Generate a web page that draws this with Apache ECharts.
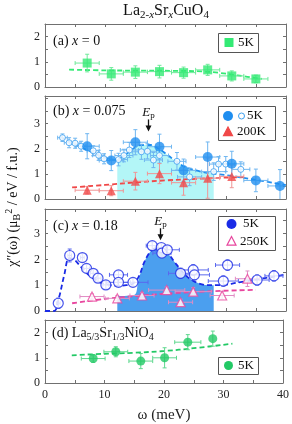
<!DOCTYPE html>
<html><head><meta charset="utf-8">
<script src="https://cdn.jsdelivr.net/npm/echarts@6/dist/echarts.min.js"></script>
<style>html,body{margin:0;padding:0;background:#fff}#c{width:292px;height:424px}</style>
</head><body><div id="c"></div>
<script>
const FONT = 'Liberation Serif';
const xTickLabels = [0, 10, 20, 30, 40];

// (a) x = 0, 5K
const aX = [7, 11, 15, 19, 23, 27, 31, 35];
const aY = [0.95, 0.52, 0.59, 0.61, 0.57, 0.68, 0.44, 0.32];
const aXErr = [2, 2, 2, 2, 2, 2, 2, 2];
const aYErr = [0.35, 0.25, 0.25, 0.25, 0.22, 0.22, 0.2, 0.15];
const aFit = [[4,0.69],[10,0.66],[16,0.65],[22,0.64],[26,0.62],[29,0.56],[32,0.46],[36,0.32]];

// (b) x = 0.075
const bBigX = [7, 11, 15, 19, 23, 27, 31, 35, 39];
const bBigY = [2.1, 1.53, 2.26, 2.08, 1.14, 1.67, 1.40, 0.74, 0.52];
const bBigXErr = [2, 2, 2, 2, 2, 2, 2, 2, 2];
const bBigYErr = [0.5, 0.4, 0.5, 0.5, 0.45, 0.6, 0.5, 0.45, 0.65];
const bSmallX = [2.9, 4.0, 5.0, 6.0, 8.0, 8.9, 9.8, 12.2, 13.1, 14.0, 16.0, 17.0, 18.0, 19.0, 21.9, 24.0, 28.0, 28.8, 30.0, 32.5];
const bSmallY = [2.44, 2.24, 2.22, 2.1, 1.92, 1.74, 1.6, 1.57, 1.73, 1.95, 1.88, 1.9, 1.55, 1.73, 1.5, 0.88, 1.09, 1.39, 1.39, 1.18];
const bSmallXErr = [0.8, 0.8, 0.8, 0.8, 1, 1, 1, 1.5, 1.5, 1.5, 1.5, 1.5, 1.5, 1.5, 1.5, 2, 2, 1.5, 1.5, 1.5];
const bSmallYErr = [0.15, 0.2, 0.2, 0.2, 0.2, 0.2, 0.2, 0.25, 0.25, 0.3, 0.3, 0.3, 0.3, 0.3, 0.35, 0.35, 0.35, 0.3, 0.3, 0.3];
const bRedX = [7, 11, 15, 19, 23, 27, 31];
const bRedY = [0.35, 0.33, 0.71, 1.01, 0.65, 0.83, 0.9];
const bRedXErr = [2, 2, 2, 2, 2, 2, 2];
const bRedYErr = [0.15, 0.2, 0.35, 0.4, 0.5, 0.8, 0.45];
const bFit = [[2.5,2.48],[4,2.3],[6,2.06],[8,1.84],[10,1.64],[11.5,1.56],[13,1.7],[14.5,1.98],[16,2.15],[17.5,2.15],[19,1.98],[20.5,1.72],[22,1.45],[23.5,1.25],[25,1.14],[27,1.04],[29,0.98],[31,0.92],[33,0.84],[35,0.76],[37,0.68],[39,0.59],[40,0.55]];
const bFill = [[12,1.58],[13,1.7],[14.5,1.98],[16,2.15],[17.5,2.15],[19,1.98],[20.5,1.72],[22,1.45],[23.5,1.25],[25,1.14],[27,1.04],[28,1.0]];
const bRedFit = [[4.5,0.46],[10,0.56],[15,0.66],[20,0.74],[25,0.8],[30,0.85],[33,0.87]];

// (c) x = 0.18
const cX = [2.2, 4.1, 6.2, 6.9, 8.0, 8.8, 10.1, 12.2, 12.2, 14.6, 17.8, 19.3, 19.4, 20.3, 22.5, 24.6, 24.8, 29.6, 30.3, 35.2, 38.0];
const cY = [0.30, 2.15, 2.07, 1.65, 1.46, 1.27, 1.01, 1.40, 1.11, 1.11, 2.53, 2.46, 2.24, 2.37, 1.46, 1.59, 1.40, 1.16, 1.78, 1.20, 1.36];
const cXErr = [0.3, 0.3, 0.3, 0.5, 0.5, 0.5, 0.5, 1.5, 2.0, 2.5, 1.0, 1.0, 1.5, 2.0, 2.0, 2.5, 2.5, 2.5, 2.0, 2.0, 1.5];
const cYErr = [0.2, 0.25, 0.15, 0.15, 0.15, 0.15, 0.15, 0.15, 0.15, 0.15, 0.15, 0.15, 0.15, 0.15, 0.2, 0.2, 0.2, 0.2, 0.2, 0.2, 0.2];
const cPinkX = [7.8, 12.0, 16.1, 20.2, 22.5, 24.6, 29.4, 33.6];
const cPinkY = [0.56, 0.49, 0.60, 0.81, 0.34, 0.75, 0.60, 1.25];
const cPinkXErr = [2, 2, 2, 3, 2, 3, 2, 2];
const cPinkYErr = [0.1, 0.1, 0.12, 0.12, 0.12, 0.15, 0.15, 0.3];
const cFit = [[0,0],[1.5,0],[2.3,0.5],[3.2,1.4],[4.0,2.05],[4.8,2.0],[6,1.7],[7,1.45],[8,1.27],[9,1.13],[10,1.04],[12,0.98],[13.5,1.0],[14.5,1.05],[15.5,1.3],[16.5,1.9],[17.5,2.3],[18.5,2.45],[19.5,2.4],[20.5,2.2],[21.5,1.9],[22.5,1.6],[23.5,1.35],[24.5,1.18],[25.5,1.07],[27,1.0],[29,1.0],[32,1.1],[35,1.22],[38,1.33],[40,1.42]];
const cFill = [[12,0.58],[14.8,0.62],[15.5,1.2],[16.5,1.9],[17.5,2.3],[18.5,2.45],[19.5,2.4],[20.5,2.2],[21.5,1.9],[22.5,1.6],[23.5,1.35],[24.5,1.18],[25.5,1.07],[27,1.0],[28,1.0]];
const cPinkFit = [[4.5,0.3],[10,0.47],[16,0.6],[22,0.7],[28,0.77],[35,0.82]];

// (d) La5/3Sr1/3NiO4
const dX = [8.1, 11.9, 16.1, 20.1, 24.0, 28.2];
const dY = [0.97, 1.24, 0.87, 1.0, 1.62, 1.76];
const dXErr = [2, 2, 2, 2, 2.2, 0];
const dYErr = [0.15, 0.2, 0.3, 0.4, 0.3, 0.3];
const dFit = [[4.5,1.1],[10,1.16],[15,1.2],[20,1.27],[25,1.38],[31.5,1.56]];

const panels = [
  {top: 24, height: 63, ymax: 2.5},
  {top: 96, height: 103, ymax: 4.1},
  {top: 209, height: 102, ymax: 3.95},
  {top: 320, height: 63, ymax: 2.5}
];

const AX = '#707070';
const axisCommon = {
  axisLine: {onZero: false, lineStyle: {color: AX, width: 1}},
  axisTick: {inside: true, length: 3, lineStyle: {color: AX}},
  splitLine: {show: false}
};

const xAxes = [], yAxes = [];
panels.forEach((p, i) => {
  xAxes.push(Object.assign({gridIndex: i, type: 'value', min: 0, max: 40, interval: 5, position: 'bottom',
    axisLabel: {show: i === 3, margin: 6, fontFamily: FONT, fontSize: 12, color: '#222',
      formatter: v => xTickLabels.indexOf(v) >= 0 ? String(v) : ''},
    name: i === 3 ? 'ω (meV)' : '', nameLocation: 'middle', nameGap: 25,
    nameTextStyle: {fontFamily: FONT, fontSize: 15, color: '#222'}}, axisCommon));
  xAxes.push(Object.assign({gridIndex: i, type: 'value', min: 0, max: 40, interval: 5, position: 'top',
    axisLabel: {show: false}}, axisCommon));
  yAxes.push(Object.assign({gridIndex: i, type: 'value', min: 0, max: p.ymax, interval: 0.5, position: 'left',
    axisLabel: {margin: 5, fontFamily: FONT, fontSize: 12, color: '#222',
      formatter: v => (Math.abs(v - Math.round(v)) < 1e-6 && v < p.ymax - 0.3) ? String(Math.round(v)) : ''}}, axisCommon));
  yAxes.push(Object.assign({gridIndex: i, type: 'value', min: 0, max: p.ymax, interval: 0.5, position: 'right',
    axisLabel: {show: false}}, axisCommon));
});

function zip(xs, ys, xe, ye) { return xs.map((x, k) => [x, ys[k], xe[k], ye[k]]); }

function errSeries(g, xs, ys, xe, ye, color) {
  return {
    type: 'custom', xAxisIndex: 2 * g, yAxisIndex: 2 * g, clip: true, silent: true, z: 3,
    data: zip(xs, ys, xe, ye), encode: {x: 0, y: 1},
    renderItem: (params, api) => {
      const x = api.value(0), y = api.value(1), xe2 = api.value(2), ye2 = api.value(3);
      const cap = 2, ch = [];
      const st = {stroke: color, lineWidth: 1};
      if (xe2 > 0) {
        const L = api.coord([x - xe2, y]), R = api.coord([x + xe2, y]);
        ch.push({type: 'line', shape: {x1: L[0], y1: L[1], x2: R[0], y2: R[1]}, style: st});
        ch.push({type: 'line', shape: {x1: L[0], y1: L[1] - cap, x2: L[0], y2: L[1] + cap}, style: st});
        ch.push({type: 'line', shape: {x1: R[0], y1: R[1] - cap, x2: R[0], y2: R[1] + cap}, style: st});
      }
      if (ye2 > 0) {
        const B = api.coord([x, y - ye2]), T = api.coord([x, y + ye2]);
        ch.push({type: 'line', shape: {x1: B[0], y1: B[1], x2: T[0], y2: T[1]}, style: st});
        ch.push({type: 'line', shape: {x1: B[0] - cap, y1: B[1], x2: B[0] + cap, y2: B[1]}, style: st});
        ch.push({type: 'line', shape: {x1: T[0] - cap, y1: T[1], x2: T[0] + cap, y2: T[1]}, style: st});
      }
      return {type: 'group', children: ch};
    }
  };
}
function scat(g, xs, ys, symbol, size, itemStyle) {
  return {type: 'scatter', xAxisIndex: 2 * g, yAxisIndex: 2 * g, z: 4, silent: true,
    data: xs.map((x, k) => [x, ys[k]]), symbol: symbol, symbolSize: size, itemStyle: itemStyle};
}
function dashed(g, pts, color) {
  return {type: 'line', xAxisIndex: 2 * g, yAxisIndex: 2 * g, z: 2, silent: true, data: pts,
    symbol: 'none', smooth: 0.35, clip: true, lineStyle: {type: [5, 3], width: 1.8, color: color}};
}
function fill(g, pts, color) {
  return {type: 'line', xAxisIndex: 2 * g, yAxisIndex: 2 * g, z: 1, silent: true, data: pts,
    symbol: 'none', smooth: 0.35, lineStyle: {width: 0, opacity: 0}, areaStyle: {color: color, opacity: 1}};
}

const GA = '#33ea74', GAe = '#6eea9a';
const BB = '#1f8ef0', BBe = '#6fb6f0', BS = '#3c9ff0';
const RD = '#f04848', RDe = '#f09595';
const CY = '#b3f6f7';
const BC = '#1a2be6', BCe = '#5a68ee', FC = '#4b9fef';
const PK = '#e8469e', PKe = '#e08cc4';
const GD = '#22c965', GDe = '#5fd88f';

const series = [
  // (a)
  dashed(0, aFit, GA),
  errSeries(0, aX, aY, aXErr, aYErr, GAe),
  scat(0, aX, aY, 'rect', 9, {color: GA}),
  // (b)
  fill(1, bFill, CY),
  dashed(1, bFit, BB),
  dashed(1, bRedFit, RD),
  errSeries(1, bSmallX, bSmallY, bSmallXErr, bSmallYErr, BBe),
  errSeries(1, bRedX, bRedY, bRedXErr, bRedYErr, RDe),
  errSeries(1, bBigX, bBigY, bBigXErr, bBigYErr, BBe),
  scat(1, bSmallX, bSmallY, 'circle', 6, {color: '#fff', borderColor: BS, borderWidth: 1}),
  scat(1, bRedX, bRedY, 'triangle', 9, {color: RD}),
  scat(1, bBigX, bBigY, 'circle', 10, {color: BB}),
  // (c)
  fill(2, cFill, FC),
  dashed(2, cFit, BC),
  dashed(2, cPinkFit, PK),
  errSeries(2, cPinkX, cPinkY, cPinkXErr, cPinkYErr, PKe),
  errSeries(2, cX, cY, cXErr, cYErr, BCe),
  scat(2, cPinkX, cPinkY, 'triangle', 9, {color: '#fff', borderColor: PK, borderWidth: 1.2}),
  scat(2, cX, cY, 'circle', 10, {color: '#fff', borderColor: BC, borderWidth: 1.2}),
  // (d)
  dashed(3, dFit, GD),
  errSeries(3, dX, dY, dXErr, dYErr, GDe),
  scat(3, dX, dY, 'circle', 9, {color: GD})
];

const chart = echarts.init(document.getElementById('c'), null, {renderer: 'canvas'});
chart.setOption({
  animation: false,
  backgroundColor: '#fff',
  grid: panels.map(p => ({left: 45, width: 241, top: p.top, height: p.height})),
  xAxis: xAxes,
  yAxis: yAxes,
  series: series
});

function txt(x, y, text, rich, align) {
  return {type: 'text', x: x, y: y, z: 50, silent: true,
    style: {text: text, rich: rich, align: align || 'left', textAlign: align || 'left',
      verticalAlign: 'middle', textVerticalAlign: 'middle', fill: '#111'}};
}
const R14 = {
  n: {fontFamily: FONT, fontSize: 14, fill: '#111', lineHeight: 18},
  i: {fontFamily: FONT, fontSize: 14, fontStyle: 'italic', fill: '#111', lineHeight: 18},
  s: {fontFamily: FONT, fontSize: 10, fill: '#111', lineHeight: 10, verticalAlign: 'bottom'}
};
const RL = {n: {fontFamily: FONT, fontSize: 13, fill: '#111', lineHeight: 16}};
function box(x, y, w, h) {
  return {type: 'rect', z: 40, silent: true, shape: {x: x + 0.5, y: y + 0.5, width: w, height: h},
    style: {fill: '#fff', stroke: '#555', lineWidth: 1}};
}
function tri(cx, cy, s, fillC, strokeC) {
  return {type: 'polygon', z: 45, silent: true,
    shape: {points: [[cx, cy - s * 0.55], [cx + s * 0.5, cy + s * 0.4], [cx - s * 0.5, cy + s * 0.4]]},
    style: {fill: fillC, stroke: strokeC || fillC, lineWidth: 1.2}};
}
function circ(cx, cy, r, fillC, strokeC, lw) {
  return {type: 'circle', z: 45, silent: true, shape: {cx: cx, cy: cy, r: r},
    style: {fill: fillC, stroke: strokeC || fillC, lineWidth: lw || 0}};
}
function arrow(gi, xv, yv) {
  const p = chart.convertToPixel({gridIndex: gi}, [xv, yv]);
  const x = Math.round(p[0]) + 0.5, y = p[1];
  return [
    {type: 'line', z: 45, silent: true, shape: {x1: x, y1: y - 12, x2: x, y2: y - 4}, style: {stroke: '#111', lineWidth: 1.3}},
    {type: 'polygon', z: 45, silent: true, shape: {points: [[x, y], [x - 3, y - 6], [x + 3, y - 6]]}, style: {fill: '#111'}},
    txt(x, y - 19, '{i|E}{s|p}', {
      i: {fontFamily: FONT, fontSize: 13, fontStyle: 'italic', fill: '#111', lineHeight: 15},
      s: {fontFamily: FONT, fontSize: 9, fill: '#111', lineHeight: 9, verticalAlign: 'bottom'}}, 'center')
  ];
}

const els = [
  // title
  txt(166, 11, '{n|La}{s|2-}{si|x}{n|Sr}{si|x}{n|CuO}{s|4}', {
    n: {fontFamily: FONT, fontSize: 16, fill: '#111', lineHeight: 20},
    s: {fontFamily: FONT, fontSize: 11, fill: '#111', lineHeight: 11, verticalAlign: 'bottom'},
    si: {fontFamily: FONT, fontSize: 11, fontStyle: 'italic', fill: '#111', lineHeight: 11, verticalAlign: 'bottom'}}, 'center'),
  // y title
  Object.assign(txt(13, 207, '{n|χ″(ω) (μ}{s|B}{p|2}{n| / eV / f.u.)}', {
    n: {fontFamily: FONT, fontSize: 14, fill: '#111', lineHeight: 18},
    s: {fontFamily: FONT, fontSize: 10, fill: '#111', lineHeight: 10, verticalAlign: 'bottom'},
    p: {fontFamily: FONT, fontSize: 10, fill: '#111', lineHeight: 10, verticalAlign: 'top'}}, 'center'), {rotation: Math.PI / 2}),
  // panel labels
  txt(53, 41, '{n|(a) }{i|x}{n| = 0}', R14),
  txt(53, 111, '{n|(b) }{i|x}{n| = 0.075}', R14),
  txt(53, 226, '{n|(c) }{i|x}{n| = 0.18}', R14),
  txt(52, 333, '{n|(d) La}{s|5/3}{n|Sr}{s|1/3}{n|NiO}{s|4}', R14),
  // legend (a)
  box(218, 33, 40, 19),
  {type: 'rect', z: 45, silent: true, shape: {x: 224.5, y: 38, width: 9, height: 9}, style: {fill: GA}},
  txt(238, 42.5, '{n|5K}', RL),
  // legend (b)
  box(218, 106, 57, 34),
  circ(228, 116, 5, BB),
  circ(241.5, 116, 3, '#fff', BS, 1),
  txt(247, 116, '{n|5K}', RL),
  tri(228, 132, 9, RD),
  txt(237, 132, '{n|200K}', RL),
  // legend (c)
  box(218, 216, 57, 34),
  circ(231.5, 224, 5, BC),
  txt(243, 224, '{n|5K}', RL),
  tri(231.5, 241.5, 9, '#fff', PK),
  txt(240, 241.5, '{n|250K}', RL),
  // legend (d)
  box(218, 357, 40, 17),
  circ(228.5, 365.5, 4.5, GD),
  txt(238, 365.5, '{n|5K}', RL)
].concat(arrow(1, 17.1, 2.69)).concat(arrow(2, 19.1, 2.74));

chart.setOption({graphic: {elements: els}});
</script>
</body></html>
